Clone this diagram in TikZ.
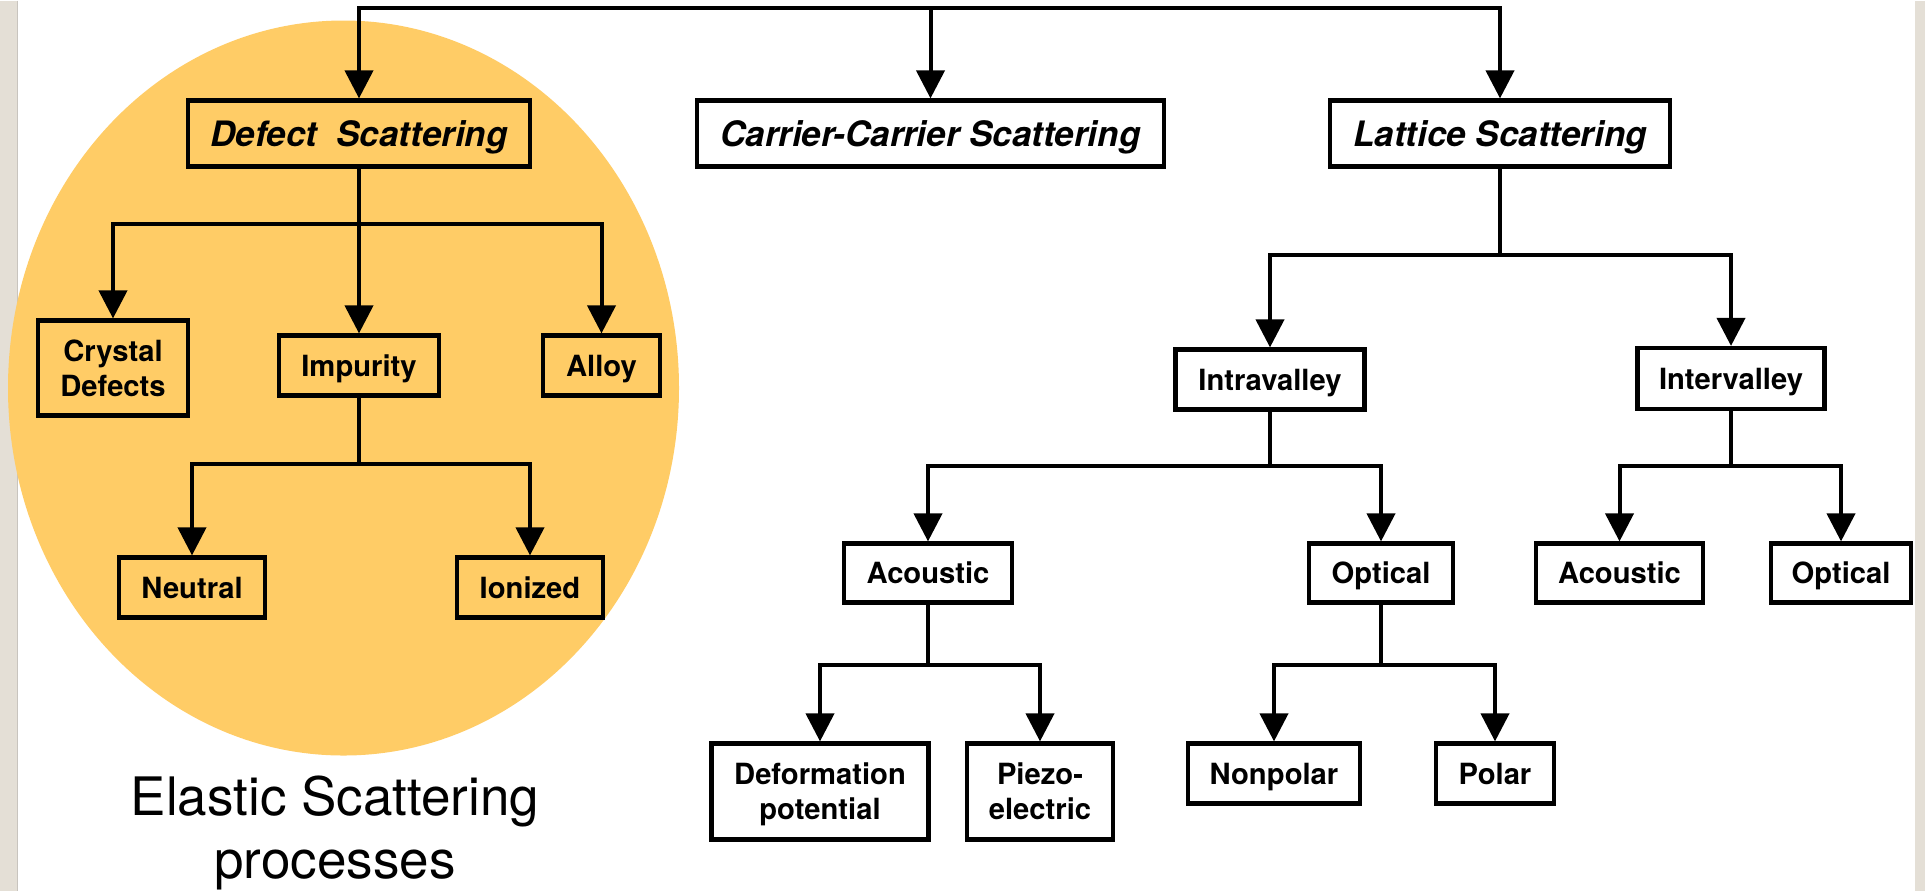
\documentclass[tikz,border=0pt]{standalone}
\usepackage{fontspec}
\setmainfont{TeX Gyre Heros}
\usetikzlibrary{arrows.meta}
\definecolor{ellfill}{RGB}{255,204,102}
\definecolor{stripcol}{RGB}{228,223,214}
\definecolor{stripline}{RGB}{200,196,190}
\begin{document}
\begin{tikzpicture}[x=0.5pt,y=-0.5pt,
  box/.style={draw,line width=2.1pt,inner sep=0pt,align=center,text depth=0pt,
    font=\bfseries\fontsize{14.6}{17.5}\selectfont},
  topbox/.style={box,font=\bfseries\itshape\fontsize{17.5}{21}\selectfont},
  wh/.style 2 args={minimum width=#1pt,minimum height=#2pt},
  conn/.style={line width=2pt},
  bar/.style={conn,line cap=rect},
  arr/.style={conn,-{Triangle[length=14pt,width=14pt]}}]
% background
\fill[white] (0,0) rectangle (1925,890);
\fill[stripcol] (0,0) rectangle (17,890);
\draw[stripline,line width=0.5pt] (17.5,0) -- (17.5,890);
\fill[stripcol] (1915,0) rectangle (1925,890);
\fill[ellfill] (343.5,387.5) ellipse [x radius=167.75pt, y radius=183.75pt];
% caption
\node[font=\fontsize{26.5}{31.5}\selectfont,align=center,anchor=base,inner sep=0pt] (elastic) at (335,878) {Elastic Scattering\\processes};
% top level
\node[topbox,wh={171}{33}] (defect) at (359,133) {Defect~~Scattering};
\node[topbox,wh={233.5}{33}] (carrier) at (930.5,133) {Carrier-Carrier Scattering};
\node[topbox,wh={170}{33}] (lattice) at (1500,133) {Lattice Scattering};
% defect branch
\node[box,wh={75}{47.5}] (crystal) at (113,367.5) {Crystal\\Defects};
\node[box,wh={80}{30}] (impurity) at (359,365) {Impurity};
\node[box,wh={58.5}{30}] (alloy) at (601.5,365) {Alloy};
\node[box,wh={73}{30}] (neutral) at (192,587) {Neutral};
\node[box,wh={73}{30}] (ionized) at (530,587) {Ionized};
% lattice branch
\node[box,wh={94.5}{30}] (intra) at (1270,379) {Intravalley};
\node[box,wh={93.5}{30.5}] (inter) at (1731,378) {Intervalley};
\node[box,wh={84}{29.5}] (acou1) at (928,572.5) {Acoustic};
\node[box,wh={72}{29.5}] (opt1) at (1381,572.5) {Optical};
\node[box,wh={83.5}{29.5}] (acou2) at (1619.5,572.5) {Acoustic};
\node[box,wh={70}{29.5}] (opt2) at (1841,572.5) {Optical};
\node[box,wh={108.5}{48}] (deform) at (820,791) {Deformation\\potential};
\node[box,wh={73}{48}] (piezo) at (1040,791) {Piezo-\\electric};
\node[box,wh={86}{30}] (nonpolar) at (1274,773) {Nonpolar};
\node[box,wh={59}{30}] (polar) at (1495,773) {Polar};
% bar levels
\coordinate (ytop) at (0,7);
\coordinate (ydef) at (0,223);
\coordinate (yimp) at (0,463);
\coordinate (ylat) at (0,254);
\coordinate (yval) at (0,465);
\coordinate (ylow) at (0,664);
% top connectors
\draw[bar] (defect.north |- ytop) -- (lattice.north |- ytop);
\draw[arr] (defect.north |- ytop) -- (defect.north);
\draw[arr] (carrier.north |- ytop) -- (carrier.north);
\draw[arr] (lattice.north |- ytop) -- (lattice.north);
% defect
\draw[conn] (defect.south) -- (defect.south |- ydef);
\draw[bar] (crystal.north |- ydef) -- (alloy.north |- ydef);
\draw[arr] (crystal.north |- ydef) -- (crystal.north);
\draw[arr] (impurity.north |- ydef) -- (impurity.north);
\draw[arr] (alloy.north |- ydef) -- (alloy.north);
% impurity
\draw[conn] (impurity.south) -- (impurity.south |- yimp);
\draw[bar] (neutral.north |- yimp) -- (ionized.north |- yimp);
\draw[arr] (neutral.north |- yimp) -- (neutral.north);
\draw[arr] (ionized.north |- yimp) -- (ionized.north);
% lattice
\draw[conn] (lattice.south) -- (lattice.south |- ylat);
\draw[bar] (intra.north |- ylat) -- (inter.north |- ylat);
\draw[arr] (intra.north |- ylat) -- (intra.north);
\draw[arr] (inter.north |- ylat) -- (inter.north);
% intravalley
\draw[conn] (intra.south) -- (intra.south |- yval);
\draw[bar] (acou1.north |- yval) -- (opt1.north |- yval);
\draw[arr] (acou1.north |- yval) -- (acou1.north);
\draw[arr] (opt1.north |- yval) -- (opt1.north);
% intervalley
\draw[conn] (inter.south) -- (inter.south |- yval);
\draw[bar] (acou2.north |- yval) -- (opt2.north |- yval);
\draw[arr] (acou2.north |- yval) -- (acou2.north);
\draw[arr] (opt2.north |- yval) -- (opt2.north);
% acoustic
\draw[conn] (acou1.south) -- (acou1.south |- ylow);
\draw[bar] (deform.north |- ylow) -- (piezo.north |- ylow);
\draw[arr] (deform.north |- ylow) -- (deform.north);
\draw[arr] (piezo.north |- ylow) -- (piezo.north);
% optical
\draw[conn] (opt1.south) -- (opt1.south |- ylow);
\draw[bar] (nonpolar.north |- ylow) -- (polar.north |- ylow);
\draw[arr] (nonpolar.north |- ylow) -- (nonpolar.north);
\draw[arr] (polar.north |- ylow) -- (polar.north);
\end{tikzpicture}
\end{document}
